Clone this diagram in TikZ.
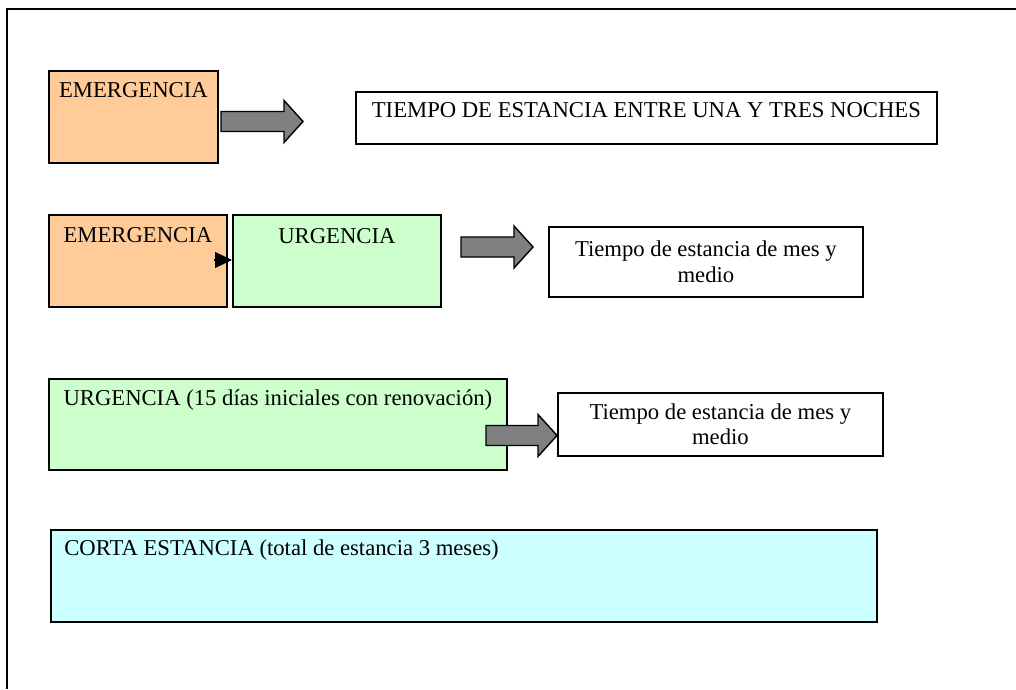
\documentclass[tikz,border=0pt]{standalone}
\usepackage{fontspec}
\setmainfont{Liberation Serif}
\usetikzlibrary{arrows.meta}

\definecolor{emergcolor}{HTML}{FFCC99}
\definecolor{urgcolor}{HTML}{CCFFCC}
\definecolor{cortacolor}{HTML}{CCFFFF}
\definecolor{arrowgray}{HTML}{808080}

\newcommand{\px}{0.02cm}
% block arrow: start x, end x, middle y
\newcommand{\blockarrow}[3]{%
  \draw[blockarrow] (#1,#3-10) -- (#2-19,#3-10) -- (#2-19,#3-21) -- (#2,#3)
    -- (#2-19,#3+21) -- (#2-19,#3+10) -- (#1,#3+10) -- cycle;}

\tikzset{
  box/.style={draw, line width=1pt, rectangle, inner sep=0pt, anchor=north west},
  boxtext/.style={font=\fontsize{12.9}{14.4}\selectfont, inner sep=0pt},
  blockarrow/.style={draw, fill=arrowgray, line width=0.8pt},
}

\begin{document}
\begin{tikzpicture}[x=\px,y=-\px]
	\useasboundingbox (0,0) rectangle (1016,689);
	\draw[line width=1pt] (1016,9) -- (7,9) -- (7,689);
	
	% first row
	\node[box, fill=emergcolor, minimum width=169*\px, minimum height=92*\px,
		label={[boxtext,anchor=base,yshift=-28*\px]north:EMERGENCIA}] (emerg1) at (48,70) {};
	\blockarrow{221}{303}{121.5}
	\node[box, minimum width=581*\px, minimum height=52*\px,
		label={[boxtext,anchor=base,yshift=-27*\px]north:TIEMPO DE ESTANCIA ENTRE UNA Y TRES NOCHES}] (tiempo1) at (355,91) {};
	
	% second row
	\node[box, fill=emergcolor, minimum width=178*\px, minimum height=92*\px,
		label={[boxtext,anchor=base,yshift=-28*\px]north:EMERGENCIA}] (emerg2) at (48,214) {};
	\node[box, fill=urgcolor, minimum width=208*\px, minimum height=92*\px,
		label={[boxtext,anchor=base,yshift=-29*\px]north:URGENCIA}] (urg2) at (232,214) {};
	\coordinate (tipbase) at (214,260);
	\draw[line width=0.6pt, -{Triangle[length=17*\px,width=16*\px]}] (tipbase) -- (urg2.west |- tipbase);
	\blockarrow{461}{533}{247}
	\node[box, boxtext, align=center, minimum width=314*\px, minimum height=70*\px] (tiempo2) at (548,226)
		{Tiempo de estancia de mes y\\medio};
	
	% third row
	\node[box, fill=urgcolor, minimum width=458*\px, minimum height=91*\px,
		label={[boxtext,anchor=base,yshift=-27*\px]north:URGENCIA (15 días iniciales con renovación)}] (urg3) at (48,378) {};
	\blockarrow{486}{557}{435.5}
	\node[box, boxtext, align=center, minimum width=325*\px, minimum height=63*\px] (tiempo3) at (557,392)
		{Tiempo de estancia de mes y\\medio};
	
	% fourth row
	\node[box, fill=cortacolor, minimum width=826*\px, minimum height=92*\px,
		label={[boxtext,anchor=base west,xshift=14*\px,yshift=-26*\px]north west:CORTA ESTANCIA (total de estancia 3 meses)}] (corta) at (50,529) {};
\end{tikzpicture}
\end{document}
